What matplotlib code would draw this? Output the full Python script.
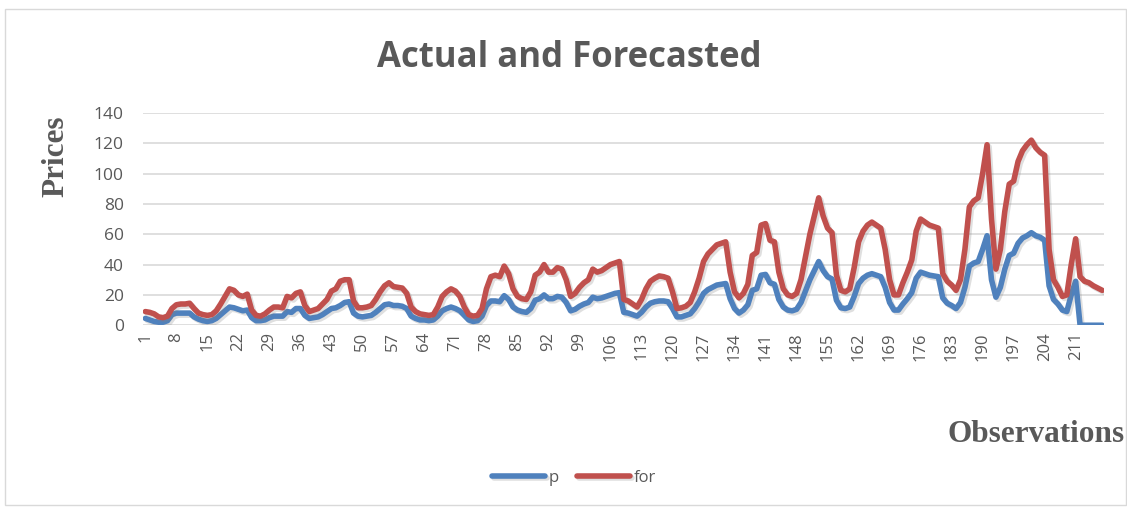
import numpy as np
import matplotlib
matplotlib.use("Agg")
import matplotlib.pyplot as plt
import matplotlib.patheffects as pe
from matplotlib.patches import Rectangle

# actual prices (p)
p = [4.5, 3.5, 2.5, 2, 2, 3, 7, 8, 8, 8, 8, 5.5, 4, 3, 2.5, 3, 4.5, 7, 9.5, 12,
     11.5, 10.5, 9.5, 10, 5, 3, 3, 3.5, 5, 6, 6, 6, 9, 8.5, 11, 11, 6.5, 4.5, 5, 5.5,
     7, 9, 11, 11.5, 13, 15, 15.5, 8, 6, 5.5, 6, 6.5, 8.5, 11, 13.5, 14, 13, 13, 12.5, 11,
     6, 4.5, 3.5, 3.5, 3, 3.5, 6, 9.5, 11, 12, 11, 9.5, 6.5, 3.5, 2.5, 3, 6, 13, 16, 16,
     15.5, 19.5, 17, 12, 10, 9, 8.5, 11, 16.5, 17.5, 20, 17.5, 17.5, 19, 18.5, 15, 9.5, 10.5, 12.5, 14,
     15, 18.5, 17.5, 18, 19, 20, 21, 21.5, 8.5, 8, 7, 6, 8.5, 12, 14.5, 15.5, 16, 16, 15.5, 11,
     5.5, 5.5, 6.5, 7.5, 11, 15.5, 21, 23.5, 25, 26.5, 27, 27.5, 17.5, 11, 8, 10, 13.5, 23, 24, 33,
     33.5, 28, 27, 17, 12, 10, 9.5, 10.5, 15, 22.5, 30, 36, 42, 36, 32, 30.5, 16.5, 11.5, 11, 12,
     19, 27.5, 31, 33, 34, 33, 32, 25, 15, 10, 10, 14, 17.5, 21.5, 31, 35, 34, 33, 32.5, 32,
     18, 14.5, 13, 11, 15, 25, 39, 41, 42, 50, 59, 30, 18.5, 25, 37, 46, 47.5, 54, 57.5, 59,
     61, 59, 58, 56, 26, 17, 14, 10, 9, 20, 29, 0, 0, 0, 0, 0, 0]

# forecasted prices (for)
fc = [9, 8.5, 7.5, 5.5, 5, 6, 11, 13.5, 14, 14, 14.5, 11, 8, 7, 6.5, 7, 9.5, 14, 19, 24,
      23, 20, 19, 20.5, 10, 6.5, 6, 7.5, 10, 12, 12, 11.5, 19, 18, 21, 22, 13, 9, 10, 11,
      14, 17, 22.5, 24, 29, 30, 30, 16, 11.5, 11.5, 12, 13, 17, 22, 26, 28, 25.5, 25, 24.5, 21,
      12, 9, 7.5, 7, 6.5, 7, 12, 19, 22, 24, 22.5, 19, 12, 7, 6, 6.5, 11, 24, 32, 33,
      32, 39, 34, 24, 19, 17.5, 17, 22, 33, 35, 40, 35, 35, 38, 37, 30, 19, 21, 25, 28,
      30, 37, 35, 36, 38, 40, 41, 42, 17, 16, 14, 12, 17, 24, 29, 31, 32.5, 32, 31, 22,
      11, 11.5, 12.5, 15, 22, 31, 42, 47, 50, 53, 54, 55, 35, 22, 18, 21, 27, 46, 48, 66,
      67, 56, 55, 35, 24, 20, 19, 21, 30, 45, 60, 72, 84, 72, 64, 61, 33, 23, 22, 24,
      38, 55, 62, 66, 68, 66, 64, 50, 30, 20, 20, 28, 35, 43, 62, 70, 68, 66, 65, 64,
      34, 29, 26.5, 23, 30, 50, 78, 82, 84, 100, 119, 70, 37, 50, 75, 93, 95, 108, 115, 119,
      122, 117, 114, 112, 50, 30, 25, 19, 20, 40, 57, 32, 29, 28, 26, 24.5, 23]

obs = np.arange(1, len(p) + 1)
xticks = np.arange(1, len(p) + 1, 7)
yticks = [0, 20, 40, 60, 80, 100, 120, 140]

txt = '#595959'
blue = '#4F81BD'
red = '#C0504D'

fig = plt.figure(figsize=(11.27, 5.13), dpi=100)
fig.patches.append(Rectangle((0.004, 0.015), 0.995, 0.968, transform=fig.transFigure,
                             fill=False, edgecolor='#D9D9D9', linewidth=1))

ax = fig.add_axes([0.127, 0.366, 0.853, 0.414])
shadow = [pe.SimpleLineShadow(offset=(1.5, -1.5), alpha=0.25, shadow_color='gray'), pe.Normal()]
ax.plot(obs, p, color=blue, lw=4, solid_capstyle='round', solid_joinstyle='round',
        label='p', path_effects=shadow, zorder=3)
ax.plot(obs, fc, color=red, lw=4, solid_capstyle='round', solid_joinstyle='round',
        label='for', path_effects=shadow, zorder=4)

ax.set_xlim(0.5, len(p) + 0.5)
ax.set_ylim(0, 140)
ax.set_yticks(yticks)
ax.set_xticks(xticks)
ax.set_xticklabels([str(t) for t in xticks], rotation=90, fontsize=12,
                   color=txt, family='Open Sans')
ax.set_yticklabels([str(t) for t in yticks], fontsize=12.5, color=txt, family='Open Sans')
ax.tick_params(axis='x', length=0, pad=5)
ax.tick_params(axis='y', length=0, pad=14)
ax.grid(axis='y', color='#D9D9D9', lw=1.2)
for s in ax.spines.values():
    s.set_visible(False)
ax.set_axisbelow(True)

fig.text(0.505, 0.887, 'Actual and Forecasted', ha='center', va='center',
         fontsize=25, fontweight='bold', color=txt, family='Open Sans')
fig.text(0.050, 0.696, 'Prices', rotation=90, ha='center', va='center',
         fontsize=22.5, fontweight='bold', color=txt, family='Liberation Serif')
fig.text(0.998, 0.153, 'Observations', ha='right', va='center',
         fontsize=22.5, fontweight='bold', color=txt, family='Liberation Serif')

leg = fig.legend(loc='center', bbox_to_anchor=(0.509, 0.068), ncol=2, frameon=False,
                 handlelength=3.2, handletextpad=0.2, columnspacing=1.1,
                 prop={'family': 'Open Sans', 'size': 12})
for t in leg.get_texts():
    t.set_color(txt)

plt.savefig('out.png', dpi=100)
